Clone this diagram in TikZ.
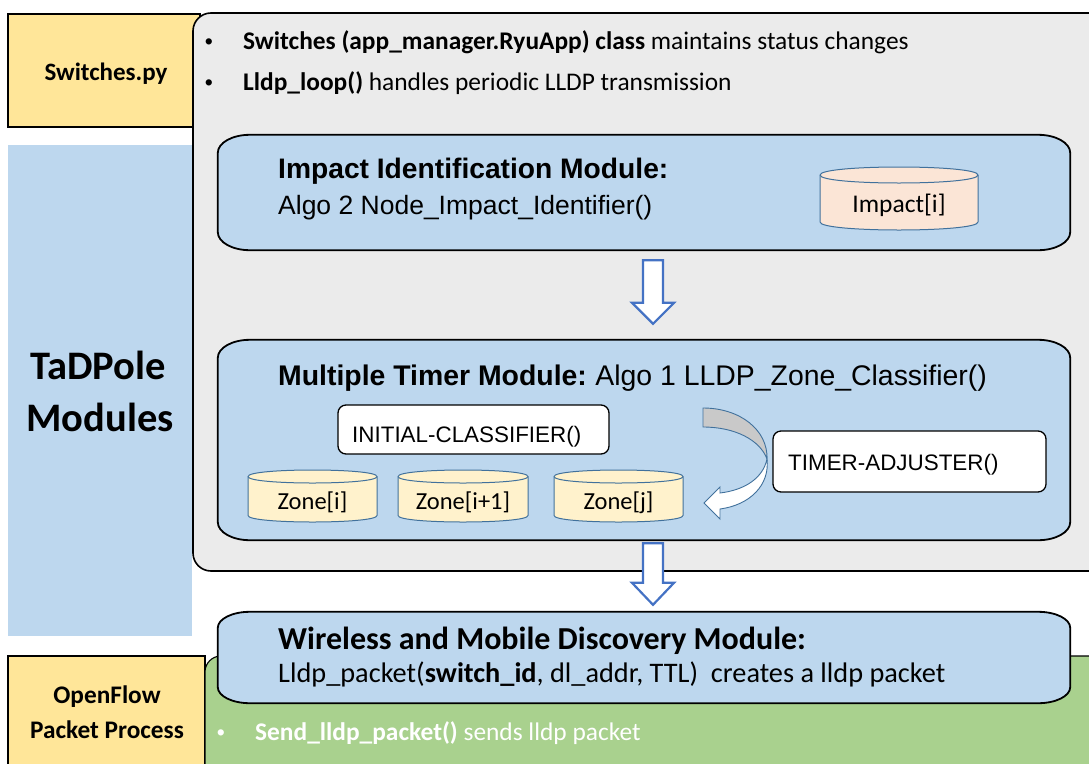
\documentclass[tikz,border=0pt]{standalone}
\usepackage{fontspec}
\setmainfont{Carlito}
\newfontfamily\arialfont{Liberation Sans}
\usetikzlibrary{calc}

\definecolor{paneyellow}{HTML}{FFE699}
\definecolor{paneblue}{HTML}{BDD7EE}
\definecolor{panegray}{HTML}{EBEBEB}
\definecolor{panegreen}{HTML}{A9D18E}
\definecolor{peach}{HTML}{FBE5D6}
\definecolor{zonefill}{HTML}{FFF2CC}
\definecolor{drumline}{HTML}{41719C}
\definecolor{arrowblue}{HTML}{4472C4}
\definecolor{curlgray}{HTML}{C9C9C9}

\newcommand\fs[1]{\fontsize{#1}{#1}\selectfont}

% rounded box with elliptical corners around a named node: #1 node, #2 style, #3 rx, #4 ry
\newcommand\ovalframe[4]{%
  \path[#2] ($(#1.north west)+(#3,0)$) -- ($(#1.north east)+(-#3,0)$)
    .. controls +(0.5523*#3,0) and +(0,-0.5523*#4) .. ($(#1.north east)+(0,#4)$)
    -- ($(#1.south east)+(0,-#4)$)
    .. controls +(0,0.5523*#4) and +(0.5523*#3,0) .. ($(#1.south east)+(-#3,0)$)
    -- ($(#1.south west)+(#3,0)$)
    .. controls +(-0.5523*#3,0) and +(0,0.5523*#4) .. ($(#1.south west)+(0,-#4)$)
    -- ($(#1.north west)+(0,#4)$)
    .. controls +(0,-0.5523*#4) and +(-0.5523*#3,0) .. ($(#1.north west)+(#3,0)$)
    -- cycle;}

% storage drum: #1 name, #2 x1, #3 y1, #4 x2, #5 y2, #6 ry, #7 fill, #8 text, #9 font size
\newcommand\drum[9]{%
  \pgfmathsetmacro\dA{#3+#6}\pgfmathsetmacro\dB{#5-#6}%
  \pgfmathsetmacro\dC{#5+#6/3}\pgfmathsetmacro\dD{#3-#6/3}%
  \pgfmathsetmacro\dE{#3+7*#6/3}%
  \pgfmathsetmacro\dX{(#2+#4)/2}\pgfmathsetmacro\dY{(#3+#5)/2+#6/2+3}%
  \path[draw=drumline,line width=1pt,fill=#7] (#2,\dA) -- (#2,\dB)
    .. controls (#2,\dC) and (#4,\dC) .. (#4,\dB) -- (#4,\dA)
    .. controls (#4,\dD) and (#2,\dD) .. (#2,\dA) -- cycle;
  \draw[drumline,line width=1pt] (#2,\dA) .. controls (#2,\dE) and (#4,\dE) .. (#4,\dA);
  \node[inner sep=0pt,font=\fs{#9}] (#1) at (\dX,\dY) {#8};}

\begin{document}
\begin{tikzpicture}[x=1pt,y=-1pt,
  txt/.style={anchor=base west,inner sep=0pt},
  ctxt/.style={anchor=base,inner sep=0pt},
  dot/.style={anchor=base,inner sep=0pt,font=\arialfont\fs{23}},
  sidebox/.style={draw=black,line width=1.1pt,fill=paneyellow},
  modframe/.style={draw=black,line width=1.8pt,fill=paneblue},
  holder/.style={draw=none,inner sep=0pt},
  fnbox/.style={draw=black,line width=1.3pt,fill=white,rounded corners=8pt,inner sep=0pt},
  blockarrow/.style={draw=arrowblue,line width=2.2pt,fill=white,line join=miter},
  curl/.style={draw=drumline,line width=0.9pt}]
\useasboundingbox (0,0) rectangle (1089,763);

% left column panels
\node[sidebox,minimum width=192,minimum height=113] (swpy) at (104,70.5) {};
\node[ctxt,font=\fs{25}\bfseries] (swpytext) at (106,80) {Switches.py};
\fill[paneblue] (8,145) rectangle (192,636);
\node[ctxt,font=\fs{40.5}\bfseries] (tadpole) at (98,379) {TaDPole};
\node[ctxt,font=\fs{40.5}\bfseries] (modules) at (100,431) {Modules};

% switches application area
\draw[fill=panegray,line width=1.6pt,rounded corners=18pt] (193,13) rectangle (1140,571);
\node[dot] (b1) at (209,49) {•};
\node[txt,font=\fs{25.4}] (l1) at (243,49) {\textbf{Switches (app\_manager.RyuApp) class} maintains status changes};
\node[dot] (b2) at (209,90) {•};
\node[txt,font=\fs{25.4}] (l2) at (243,90) {\textbf{Lldp\_loop()} handles periodic LLDP transmission};

% impact identification module
\node[holder,minimum width=852,minimum height=115] (impact) at (644,192.5) {};
\ovalframe{impact}{modframe}{32}{18}
\node[txt,font=\arialfont\fs{28.2}\bfseries] (imphead) at (278,178) {Impact Identification Module:};
\node[txt,font=\arialfont\fs{26.5}] (impalgo) at (278,214) {Algo 2 Node\_Impact\_Identifier()};
\drum{impactdb}{820}{167}{978}{230}{8}{peach}{Impact[i]}{25.5}

% multiple timer module
\node[holder,minimum width=852,minimum height=200] (timer) at (644,440) {};
\ovalframe{timer}{modframe}{32}{18}
\node[txt,font=\arialfont\fs{28.4}] (timhead) at (278,385) {\textbf{Multiple Timer Module:}\hspace{-2pt} Algo 1 LLDP\_Zone\_Classifier()};
\node[fnbox,minimum width=271,minimum height=49] (initcls) at (473.5,429.5) {};
\node[txt,font=\arialfont\fs{22.4}] (initclstext) at (352,442) {INITIAL-CLASSIFIER()};
\node[fnbox,minimum width=273,minimum height=61] (timeradj) at (909.5,461.5) {};
\node[txt,font=\arialfont\fs{22.4}] (timeradjtext) at (788,470) {TIMER-ADJUSTER()};
\drum{zone1}{248}{470}{377}{522}{6.5}{zonefill}{Zone[i]}{24.5}
\drum{zone2}{398}{470}{528}{522}{6.5}{zonefill}{Zone[i+1]}{24.5}
\drum{zone3}{554}{470}{683}{522}{6.5}{zonefill}{Zone[j]}{24.5}

% curved feedback arrow from the adjuster back to the zones
\path[curl,fill=curlgray] (703,408) .. controls (740,408) and (768,430) .. (767,459)
  .. controls (760,440) and (735,427) .. (703,427) -- cycle;
\path[curl,fill=white] (767,459) .. controls (770,485) and (750,505) .. (720,509)
  -- (720,519) -- (704,503) -- (720,487) -- (720,493)
  .. controls (745,490) and (763,478) .. (767,459) -- cycle;

% packet process area
\node[sidebox,minimum width=197,minimum height=120] (ofpp) at (106.5,716) {};
\node[ctxt,font=\fs{25.3}\bfseries] (oftext1) at (107,703) {OpenFlow};
\node[ctxt,font=\fs{25.3}\bfseries] (oftext2) at (107,738) {Packet Process};
\draw[fill=panegreen,line width=1.1pt,rounded corners=16pt] (205,656) rectangle (1140,800);
\node[dot,text=white] (b3) at (221,740) {•};
\node[txt,font=\fs{25.4},text=white] (l3) at (255,740) {\textbf{Send\_lldp\_packet()} sends lldp packet};

% wireless and mobile discovery module
\node[holder,minimum width=852,minimum height=91] (wireless) at (644,657.5) {};
\ovalframe{wireless}{modframe}{32}{16}
\node[txt,font=\fs{32}\bfseries] (wirhead) at (278,649) {Wireless and Mobile Discovery Module:};
\node[txt,font=\fs{28.3}] (wirline) at (278,682) {Lldp\_packet(\textbf{switch\_id}, dl\_addr, TTL)\ \ creates a lldp packet};

% hollow block arrows between the modules
\draw[blockarrow] ($(impact.south)+(-1,10)$) -- ($(impact.south)+(19,10)$)
  -- ($(timer.north)+(19,-37)$) -- ($(timer.north)+(30,-37)$) -- ($(timer.north)+(9,-16)$)
  -- ($(timer.north)+(-12,-37)$) -- ($(timer.north)+(-1,-37)$) -- cycle;
\draw[blockarrow] ($(timer.south)+(-1,3)$) -- ($(timer.south)+(19,3)$)
  -- ($(wireless.north)+(19,-29)$) -- ($(wireless.north)+(30,-29)$) -- ($(wireless.north)+(9,-7)$)
  -- ($(wireless.north)+(-12,-29)$) -- ($(wireless.north)+(-1,-29)$) -- cycle;
\end{tikzpicture}
\end{document}
